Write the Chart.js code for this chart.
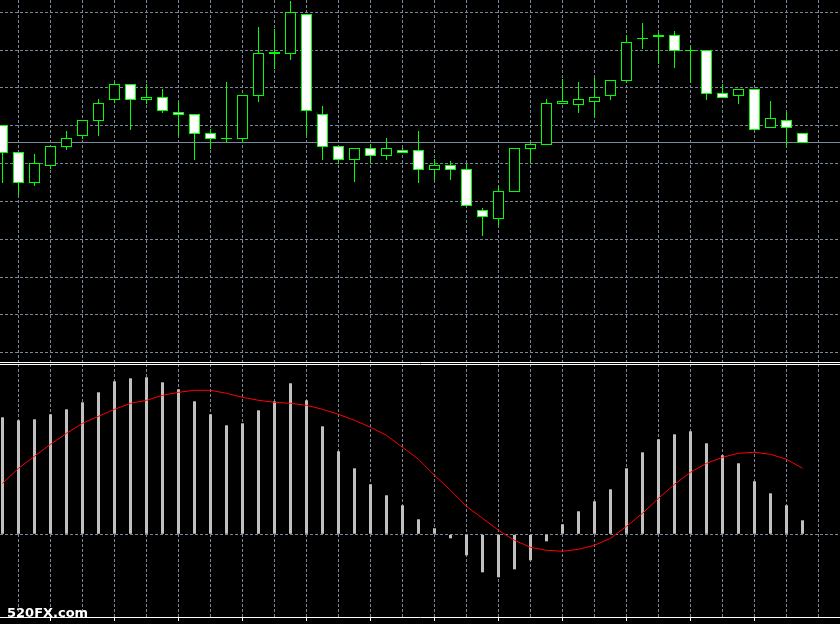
<!DOCTYPE html>
<html>
<head>
<meta charset="utf-8">
<title>Candles + MACD</title>
<script src="https://cdn.jsdelivr.net/npm/chart.js@4.4.1/dist/chart.umd.min.js"></script>
<style>
  html, body { margin: 0; padding: 0; background: #000; overflow: hidden; }
  #wrap { position: relative; width: 840px; height: 624px; }
  canvas { position: absolute; left: 0; }
  #price { top: 0; }
  #macd { top: 364px; }
</style>
</head>
<body>
<div id="wrap">
  <canvas id="price" width="840" height="363"></canvas>
  <canvas id="macd" width="840" height="260"></canvas>
</div>
<script>
// Price bars, oldest first (one value per candle)
const opens = [1.34875, 1.34848, 1.34817, 1.34834, 1.34853, 1.34864, 1.34879, 1.34900, 1.34916, 1.34900,
    1.34903, 1.34888, 1.34886, 1.34867, 1.34861, 1.34861, 1.34904, 1.34946, 1.34946, 1.34986,
    1.34886, 1.34854, 1.34840, 1.34852, 1.34844, 1.34850, 1.34850, 1.34830, 1.34835, 1.34831,
    1.34790, 1.34781, 1.34808, 1.34851, 1.34855, 1.34896, 1.34895, 1.34898, 1.34904, 1.34919,
    1.34961, 1.34963, 1.34965, 1.34949, 1.34950, 1.34907, 1.34904, 1.34911, 1.34872, 1.34880, 1.34867];
const highs = [1.34875, 1.34848, 1.34846, 1.34854, 1.34869, 1.34880, 1.34901, 1.34918, 1.34916, 1.34916,
    1.34911, 1.34898, 1.34886, 1.34871, 1.34918, 1.34905, 1.34973, 1.34971, 1.34999, 1.34986,
    1.34894, 1.34854, 1.34852, 1.34856, 1.34862, 1.34852, 1.34869, 1.34841, 1.34839, 1.34836,
    1.34792, 1.34814, 1.34852, 1.34858, 1.34901, 1.34921, 1.34918, 1.34922, 1.34920, 1.34965,
    1.34977, 1.34967, 1.34969, 1.34954, 1.34950, 1.34916, 1.34911, 1.34911, 1.34899, 1.34888, 1.34867];
const lows = [1.34817, 1.34805, 1.34814, 1.34831, 1.34850, 1.34861, 1.34864, 1.34897, 1.34870, 1.34896,
    1.34887, 1.34864, 1.34840, 1.34851, 1.34857, 1.34857, 1.34898, 1.34931, 1.34940, 1.34865,
    1.34840, 1.34836, 1.34818, 1.34837, 1.34840, 1.34847, 1.34817, 1.34820, 1.34820, 1.34793,
    1.34764, 1.34774, 1.34808, 1.34837, 1.34855, 1.34896, 1.34887, 1.34883, 1.34900, 1.34917,
    1.34951, 1.34936, 1.34932, 1.34917, 1.34900, 1.34902, 1.34896, 1.34870, 1.34872, 1.34853, 1.34857];
const closes = [1.34847, 1.34817, 1.34837, 1.34854, 1.34862, 1.34880, 1.34897, 1.34916, 1.34900, 1.34903,
    1.34889, 1.34885, 1.34866, 1.34861, 1.34861, 1.34905, 1.34947, 1.34948, 1.34988, 1.34889,
    1.34853, 1.34840, 1.34852, 1.34844, 1.34852, 1.34847, 1.34830, 1.34835, 1.34830, 1.34794,
    1.34783, 1.34809, 1.34852, 1.34856, 1.34897, 1.34899, 1.34901, 1.34903, 1.34920, 1.34958,
    1.34961, 1.34965, 1.34949, 1.34949, 1.34906, 1.34902, 1.34911, 1.34870, 1.34882, 1.34872, 1.34857];
const bidPrice = 1.348575;

// MACD main (histogram) and signal line, same bars
const macd = [0.00117, 0.00114, 0.00115, 0.00120, 0.00125, 0.00132, 0.00142, 0.00153, 0.00156, 0.00157,
    0.00152, 0.00145, 0.00133, 0.00120, 0.00109, 0.00111, 0.00124, 0.00133, 0.00151, 0.00134,
    0.00108, 0.00083, 0.00066, 0.00050, 0.00039, 0.00029, 0.00015, 0.00006, -0.00004, -0.00021,
    -0.00038, -0.00043, -0.00035, -0.00026, -0.00007, 0.00010, 0.00023, 0.00033, 0.00045, 0.00066,
    0.00082, 0.00095, 0.00100, 0.00103, 0.00091, 0.00079, 0.00071, 0.00053, 0.00041, 0.00029, 0.00014];
const signal = [0.00051, 0.00066, 0.00078, 0.00090, 0.00101, 0.00111, 0.00118, 0.00125, 0.00131, 0.00134,
    0.00139, 0.00142, 0.00144, 0.00144, 0.00141, 0.00137, 0.00134, 0.00132, 0.00131, 0.00129,
    0.00125, 0.00120, 0.00114, 0.00107, 0.00099, 0.00087, 0.00075, 0.00059, 0.00044, 0.00028,
    0.00016, 0.00004, -0.00006, -0.00013, -0.00016, -0.00017, -0.00015, -0.00011, -0.00004, 0.00008,
    0.00021, 0.00036, 0.00050, 0.00062, 0.00071, 0.00077, 0.00081, 0.00082, 0.00080, 0.00075, 0.00066];

// grid / tick positions
const priceGrid = [1.349875, 1.349495, 1.349125, 1.348745, 1.348365, 1.347985, 1.347605, 1.347225, 1.346855, 1.346475];
const gridBars = [1, 3, 5, 7, 9, 11, 13, 15, 17, 19, 21, 23, 25, 27, 29, 31, 33, 35, 37, 39, 41, 43, 45, 47, 49, 51];
const timeTickBars = [3, 7, 11, 15, 19, 23, 27, 31, 35, 39, 43, 47];

// visible bar window (first candle is cut at the left edge)
const X_MIN = -0.15625;
const X_MAX = 52.34375;

const GREEN = '#00ff00';
const GRID = '#778899';
const DASH = [3, 2];

const setTicks = values => scale => {
    scale.ticks = values.map(v => ({ value: v }));
};

const bodyColors = opens.map((o, i) => closes[i] < o ? '#ffffff' : '#000000');

const baseOptions = {
    responsive: false,
    animation: false,
    devicePixelRatio: 1,
    events: [],
    plugins: { legend: { display: false }, tooltip: { enabled: false } }
};

const xGrid = {
    type: 'linear', min: X_MIN, max: X_MAX, offset: false,
    afterBuildTicks: setTicks(gridBars),
    ticks: { display: false },
    grid: { color: GRID, drawTicks: false, offset: false }
};

// Top pane: candles
new Chart(document.getElementById('price'), {
    type: 'bar',
    data: {
        datasets: [
            {
                label: 'body',
                data: opens.map((o, i) => ({ x: i, y: [o, closes[i]] })),
                backgroundColor: bodyColors,
                borderColor: GREEN,
                borderWidth: 1,
                borderSkipped: false,
                barThickness: 11,
                minBarLength: 1,
                grouped: false,
                inflateAmount: 0
            },
            {
                label: 'wick',
                data: highs.map((h, i) => ({ x: i, y: [lows[i], h] })),
                backgroundColor: GREEN,
                borderWidth: 0,
                barThickness: 1,
                grouped: false,
                inflateAmount: 0
            },
            {
                type: 'line',
                label: 'bid',
                data: [{ x: X_MIN, y: bidPrice }, { x: X_MAX, y: bidPrice }],
                borderColor: GRID,
                borderWidth: 1,
                pointRadius: 0
            }
        ]
    },
    options: {
        ...baseOptions,
        layout: { padding: { left: 0, right: 0, top: 0, bottom: 1 } },
        scales: {
            x: { ...xGrid, border: { display: true, color: '#ffffff', dash: DASH } },
            y: {
                type: 'linear', min: 1.34638, max: 1.35, beginAtZero: false,
                afterBuildTicks: setTicks(priceGrid),
                ticks: { display: false },
                grid: { color: GRID, drawTicks: false },
                border: { display: false, dash: DASH }
            }
        }
    }
});

const watermark = {
    id: 'watermark',
    afterDraw(chart) {
        const ctx = chart.ctx;
        ctx.save();
        ctx.font = 'bold 13px "DejaVu Sans"';
        ctx.fillStyle = '#ffffff';
        ctx.textBaseline = 'alphabetic';
        ctx.fillText('520FX.com', 7, chart.chartArea.bottom);
        ctx.restore();
    }
};

// Bottom pane: MACD
new Chart(document.getElementById('macd'), {
    type: 'bar',
    data: {
        datasets: [
            {
                type: 'line',
                label: 'Signal',
                data: signal.map((v, i) => ({ x: i, y: v })),
                borderColor: '#ff0000',
                borderWidth: 1,
                pointRadius: 0,
                tension: 0
            },
            {
                label: 'MACD',
                data: macd.map((v, i) => ({ x: i, y: v })),
                backgroundColor: '#c0c0c0',
                borderWidth: 0,
                barThickness: 3,
                inflateAmount: 0
            }
        ]
    },
    options: {
        ...baseOptions,
        layout: { padding: 0 },
        scales: {
            x: { ...xGrid, border: { display: false, dash: DASH } },
            x2: {
                type: 'linear', position: 'bottom', min: X_MIN, max: X_MAX, offset: false,
                afterBuildTicks: setTicks(timeTickBars),
                afterFit: scale => { scale.height = 7; },
                ticks: { display: false },
                grid: { drawOnChartArea: false, drawTicks: true, tickLength: 4, tickColor: '#ffffff', offset: false },
                border: { display: true, color: '#ffffff' }
            },
            xTop: {
                type: 'linear', position: 'top', min: X_MIN, max: X_MAX, offset: false,
                afterBuildTicks: setTicks([]),
                ticks: { display: false },
                grid: { display: false, drawTicks: false },
                border: { display: true, color: '#ffffff', z: 1 }
            },
            y: {
                type: 'linear', min: -0.000827, max: 0.001703, beginAtZero: false,
                afterBuildTicks: setTicks([0]),
                ticks: { display: false },
                grid: { color: GRID, drawTicks: false },
                border: { display: false, dash: DASH }
            }
        }
    },
    plugins: [watermark]
});
</script>
</body>
</html>
